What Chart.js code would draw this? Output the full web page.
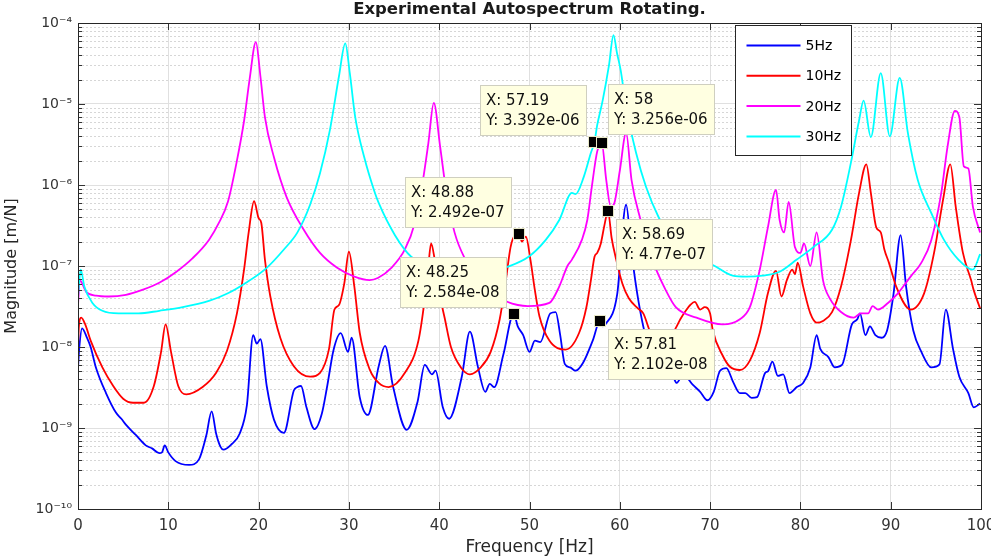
<!DOCTYPE html>
<html>
<head>
<meta charset="utf-8">
<script src="https://cdn.jsdelivr.net/npm/chart.js@4.4.1/dist/chart.umd.min.js"></script>
<style>
html, body { margin: 0; padding: 0; background: #fff; }
#wrap { width: 991px; height: 558px; position: relative; }
</style>
</head>
<body>
<div id="wrap"><canvas id="autospectrum"></canvas></div>
<script>
const FONT = "'DejaVu Sans', Arial, sans-serif";

const chartTitle = 'Experimental Autospectrum Rotating.';
const seriesNames = ['5Hz', '10Hz', '20Hz', '30Hz'];
const seriesColors = ['#0000ff', '#ff0000', '#ff00ff', '#00ffff'];

// [frequency Hz, magnitude m/N]
const curve5Hz = [
  [0,5.5e-9],[0.15,1.0e-8],[0.45,1.7e-8],[1.0,1.3e-8],[1.4,1.0e-8],[2.0,5.5e-9],[3.1,2.7e-9],[4.2,1.55e-9],
  [4.8,1.3e-9],[5.3,1.1e-9],[6.4,8.2e-10],[7.5,6.1e-10],[8.2,5.6e-10],[9.0,4.9e-10],[9.3,5.0e-10],[9.6,6.1e-10],
  [10.0,5.0e-10],[10.8,3.9e-10],[12.3,3.5e-10],[13.4,4.1e-10],[14.2,8e-10],[14.8,1.6e-9],[15.3,8.5e-10],
  [15.8,5.8e-10],[16.1,5.4e-10],[17.0,6.3e-10],[17.9,8.5e-10],[18.7,1.9e-9],[19.4,1.4e-8],[19.8,1.1e-8],
  [20.2,1.25e-8],[20.9,3.3e-9],[21.7,1.27e-9],[22.8,8.7e-10],[23.9,2.9e-9],[24.3,3.2e-9],[24.7,3.3e-9],
  [25.3,1.8e-9],[26.2,9.7e-10],[27.0,1.5e-9],[27.6,3.3e-9],[28.3,9.2e-9],[29.1,1.48e-8],[29.9,8.7e-9],
  [30.3,1.3e-8],[31.2,2.4e-9],[32.1,1.45e-9],[33.3,5.8e-9],[34.0,1.03e-8],[34.9,3.2e-9],[36.4,9.5e-10],
  [37.6,2.1e-9],[38.4,6e-9],[39.2,4.6e-9],[39.6,5.1e-9],[40.4,1.8e-9],[41.1,1.3e-9],[42.5,4.3e-9],
  [43.4,1.55e-8],[44.3,5.6e-9],[45.1,2.8e-9],[45.6,3.5e-9],[46.1,3.2e-9],[47.1,8e-9],[48.25,2.584e-8],
  [48.7,1.8e-8],[49.3,1.4e-8],[50.0,8.7e-9],[50.6,1.2e-8],[51.2,1.15e-8],[52.3,2.6e-8],[52.9,2.7e-8],
  [53.4,1.4e-8],[53.9,6.2e-9],[54.5,5.6e-9],[55.1,5.1e-9],[55.9,6.3e-9],[57.0,1.2e-8],[57.81,2.102e-8],
  [58.1,1.8e-8],[58.4,1.9e-8],[59.7,4.4e-8],[60.7,5.7e-7],[61.3,1.45e-7],[62.1,3.5e-8],[63.0,1.2e-8],
  [64.7,5.8e-9],[65.9,4.3e-9],[66.3,3.6e-9],[67.0,4.6e-9],[68.1,3.4e-9],[68.9,2.8e-9],[69.7,2.2e-9],
  [70.4,2.8e-9],[71.1,5.1e-9],[71.8,5.5e-9],[72.6,3.6e-9],[73.3,2.7e-9],[73.9,2.7e-9],[74.6,2.35e-9],
  [75.2,2.4e-9],[76.1,4.8e-9],[76.4,5.0e-9],[76.9,6.6e-9],[77.5,4.4e-9],[78.1,4.6e-9],[78.8,2.7e-9],
  [79.6,3.2e-9],[80.3,3.6e-9],[81.1,5.6e-9],[81.8,1.4e-8],[82.2,9.5e-9],[83.1,7.5e-9],[83.8,5.6e-9],
  [84.6,6e-9],[85.7,1.9e-8],[86.3,2.2e-8],[86.6,2.6e-8],[87.2,1.4e-8],[87.7,1.8e-8],[88.3,1.4e-8],
  [89.0,1.3e-8],[89.6,1.6e-8],[90.3,4.4e-8],[91.1,2.4e-7],[91.7,5.6e-8],[92.5,1.6e-8],[93.4,8.7e-9],
  [94.5,5.6e-9],[95.4,6.1e-9],[96.1,2.9e-8],[96.9,9.5e-9],[97.6,4.3e-9],[98.6,2.7e-9],[99.2,1.8e-9],[99.9,2.0e-9]
];

const curve10Hz = [
  [0,1.0e-8],[0.1,1.8e-8],[0.35,2.3e-8],[0.8,1.9e-8],[1.4,1.2e-8],[2.7,5.6e-9],[3.9,3.3e-9],[5.0,2.3e-9],
  [6.1,2.05e-9],[7.3,2.05e-9],[8.4,3.3e-9],[9.2,8.7e-9],[9.7,1.9e-8],[10.3,8.7e-9],[11.1,3.3e-9],[12.0,2.6e-9],
  [13.8,3.2e-9],[15.3,4.8e-9],[16.5,9e-9],[17.6,2.6e-8],[18.4,9.2e-8],[18.9,2.6e-7],[19.5,6.3e-7],[20.0,3.9e-7],
  [20.3,3.4e-7],[20.7,1.2e-7],[21.3,4.2e-8],[22.4,1.3e-8],[23.9,5.8e-9],[25.7,4.3e-9],[26.8,4.8e-9],
  [27.8,9.5e-9],[28.4,2.9e-8],[28.9,3.3e-8],[29.5,6.2e-8],[30.0,1.5e-7],[30.6,5.6e-8],[31.2,1.5e-8],
  [32.3,5.3e-9],[33.3,3.6e-9],[34.4,3.2e-9],[36.2,4.8e-9],[37.7,1.2e-8],[38.4,3.9e-8],[38.8,1.0e-7],
  [39.1,1.9e-7],[39.5,1.2e-7],[40.1,4.2e-8],[40.6,2.3e-8],[41.3,1.0e-8],[42.4,5.6e-9],[43.4,4.6e-9],
  [44.6,5.6e-9],[45.7,8.7e-9],[46.7,2.2e-8],[47.4,6.9e-8],[47.9,1.7e-7],[48.4,2.4e-7],[48.88,2.492e-7],
  [49.15,2.0e-7],[49.6,2.3e-7],[50.1,1.2e-7],[50.6,5e-8],[51.1,2.4e-8],[52.2,1.2e-8],[54.0,9.3e-9],
  [55.5,1.5e-8],[56.3,3.1e-8],[56.8,6.7e-8],[57.2,1.3e-7],[57.5,1.45e-7],[57.9,1.9e-7],[58.3,3.2e-7],
  [58.69,4.77e-7],[59.1,2.2e-7],[59.6,1.2e-7],[60.3,6e-8],[61.0,4e-8],[62.0,3e-8],[62.6,2.6e-8],
  [63.4,1.5e-8],[64.5,1.0e-8],[65.6,1.3e-8],[66.3,1.8e-8],[66.7,2.2e-8],[67.4,2.9e-8],[67.8,3.3e-8],
  [68.3,3.6e-8],[68.9,2.9e-8],[69.4,3.1e-8],[70.0,2.6e-8],[70.3,1.6e-8],[71.4,7.8e-9],[72.2,5.7e-9],
  [73.3,5.2e-9],[74.4,6.8e-9],[75.5,1.5e-8],[76.4,4.6e-8],[77.3,8.7e-8],[77.9,4.2e-8],[78.5,6.7e-8],
  [79.1,9e-8],[79.4,7.9e-8],[79.7,1.1e-7],[80.3,5.6e-8],[81.1,2.6e-8],[81.8,2.0e-8],[82.5,2.1e-8],
  [83.5,2.7e-8],[84.5,5.6e-8],[85.6,2.1e-7],[86.5,8e-7],[87.3,1.8e-6],[87.8,8e-7],[88.4,3.0e-7],
  [88.9,2.6e-7],[89.3,1.6e-7],[89.8,1.1e-7],[90.6,5.6e-8],[92.2,2.9e-8],[93.7,4.6e-8],[94.8,1.45e-7],
  [95.8,6.6e-7],[96.6,1.8e-6],[97.2,5.4e-7],[98.0,1.45e-7],[98.9,6.7e-8],[99.2,5e-8],[99.9,3.0e-8]
];

const curve20Hz = [
  [0,3.3e-8],[0.2,6.7e-8],[0.9,4.8e-8],[2.0,4.3e-8],[3.4,4.2e-8],[5.3,4.4e-8],[7.2,5.1e-8],[9.0,6.2e-8],
  [10.9,8.5e-8],[12.7,1.25e-7],[14.5,2.1e-7],[15.6,3.4e-7],[16.6,6.2e-7],[17.6,2.0e-6],[18.4,6.3e-6],
  [19.0,2.0e-5],[19.7,5.8e-5],[20.2,2.2e-5],[20.7,6.9e-6],[21.7,2.2e-6],[23.1,7.1e-7],[25.0,2.8e-7],
  [26.8,1.45e-7],[28.7,9.5e-8],[30.6,7.4e-8],[32.3,6.7e-8],[33.2,7.1e-8],[34.7,9.5e-8],[36.2,1.6e-7],
  [37.3,3.4e-7],[38.2,1.15e-6],[38.8,3.3e-6],[39.4,1.03e-5],[40.1,3.0e-6],[40.8,8e-7],[41.7,2.6e-7],
  [42.9,1.2e-7],[45.0,5.5e-8],[47.6,3.6e-8],[48.7,3.3e-8],[49.8,3.2e-8],[52.2,3.5e-8],[53.3,5.6e-8],
  [54.2,1.0e-7],[54.7,1.2e-7],[55.8,2.1e-7],[56.4,3.7e-7],[56.9,9.5e-7],[57.5,2.6e-6],[58.0,3.256e-6],
  [58.5,1.15e-6],[59.0,5.4e-7],[59.4,6e-7],[60.0,1.5e-6],[60.7,4.4e-6],[61.3,1.15e-6],[62.3,3.7e-7],
  [63.6,1.2e-7],[65.1,5e-8],[66.2,3.1e-8],[68.5,2.3e-8],[71.4,1.9e-8],[73.3,2.2e-8],[74.4,3.1e-8],
  [75.5,9e-8],[76.4,3.0e-7],[77.3,8.7e-7],[77.7,3.7e-7],[78.2,2.6e-7],[78.7,6.2e-7],[79.4,1.7e-7],
  [80.0,1.45e-7],[80.4,1.9e-7],[81.1,1.0e-7],[81.8,2.6e-7],[82.5,6.7e-8],[83.3,3.9e-8],[84.5,2.7e-8],
  [85.9,2.3e-8],[86.7,2.6e-8],[87.5,2.6e-8],[88.0,3.2e-8],[88.6,2.9e-8],[89.7,3.5e-8],[90.8,4.6e-8],
  [92.2,7.4e-8],[93.4,1.1e-7],[94.5,2.1e-7],[95.6,8e-7],[96.3,3.0e-6],[97.1,8.2e-6],[97.6,6.9e-6],
  [98.1,1.7e-6],[98.6,1.6e-6],[99.1,5.4e-7],[99.9,2.6e-7]
];

const curve30Hz = [
  [0,4.2e-8],[0.3,9e-8],[0.7,5.6e-8],[1.6,3.5e-8],[2.7,2.8e-8],[4.5,2.6e-8],[6.7,2.6e-8],[9.0,2.8e-8],
  [11.6,3.1e-8],[14.5,3.7e-8],[16.6,4.6e-8],[18.7,6.3e-8],[20.9,9.5e-8],[22.8,1.6e-7],[24.3,2.6e-7],
  [25.7,5.7e-7],[26.8,1.4e-6],[27.9,4.8e-6],[28.9,2.2e-5],[29.6,5.6e-5],[30.1,2.4e-5],[30.7,6.9e-6],
  [31.7,2.2e-6],[32.8,8.5e-7],[33.3,6e-7],[35.1,2.4e-7],[36.9,1.3e-7],[40.0,8.5e-8],[43.0,7.5e-8],
  [46.0,8.5e-8],[47.3,9.5e-8],[49.9,1.3e-7],[51.8,2.1e-7],[53.3,3.7e-7],[54.7,8e-7],[55.1,7.7e-7],
  [56.0,1.25e-6],[56.8,2.5e-6],[57.19,3.392e-6],[57.5,5.5e-6],[58.1,1.1e-5],[58.8,3.0e-5],[59.3,7.1e-5],
  [59.7,4.2e-5],[60.1,2.6e-5],[60.7,9.2e-6],[61.8,2.5e-6],[62.9,9.5e-7],[64.3,4.0e-7],[65.8,2.1e-7],
  [68.0,1.3e-7],[70.3,1.03e-7],[72.5,7.6e-8],[74.0,7.4e-8],[75.8,7.6e-8],[77.7,8.5e-8],[79.6,1.2e-7],
  [81.4,1.7e-7],[83.5,2.8e-7],[84.5,5.4e-7],[85.6,1.9e-6],[86.5,6.3e-6],[87.0,1.1e-5],[87.8,3.9e-6],
  [88.9,2.4e-5],[89.9,4.0e-6],[91.0,2.1e-5],[91.9,4.4e-6],[93.0,1.15e-6],[94.5,4.5e-7],[95.9,2.1e-7],
  [97.5,1.2e-7],[99.1,9e-8],[99.9,1.4e-7]
];
const curves = [curve5Hz, curve10Hz, curve20Hz, curve30Hz];

// data tips: series index, X, Y, where the box sits
const tipSeries = [3, 2, 1, 1, 0, 0];
const tipX = [57.19, 58, 48.88, 58.69, 48.25, 57.81];
const tipY = [3.392e-6, 3.256e-6, 2.492e-7, 4.77e-7, 2.584e-8, 2.102e-8];
const tipCorner = ['ul', 'ur', 'ul', 'dr', 'ul', 'dr'];

const xTicks = [0, 10, 20, 30, 40, 50, 60, 70, 80, 90, 100];
const yDecades = [-10, -9, -8, -7, -6, -5, -4];

const SUP = {'-': '\u207B', '0': '\u2070', '1': '\u00B9', '2': '\u00B2', '3': '\u00B3', '4': '\u2074',
             '5': '\u2075', '6': '\u2076', '7': '\u2077', '8': '\u2078', '9': '\u2079'};
function pow10Label(v) {
  const e = Math.round(Math.log10(v));
  return '10' + String(e).split('').map(c => SUP[c]).join('');
}
function fmtX(v) { return String(v); }
function fmtY(v) {
  const parts = v.toExponential(3).split('e');
  const mant = parts[0].replace(/\.?0+$/, '');
  const n = parseInt(parts[1], 10);
  return mant + 'e' + (n < 0 ? '-' : '+') + String(Math.abs(n)).padStart(2, '0');
}

const minorValues = [];
yDecades.slice(0, -1).forEach(e => {
  for (let m = 2; m <= 9; m++) minorValues.push(m * Math.pow(10, e));
});

const matlabLook = {
  id: 'matlabLook',
  beforeDraw(chart) {
    const ctx = chart.ctx;
    ctx.save();
    ctx.fillStyle = '#ffffff';
    ctx.fillRect(0, 0, chart.width, chart.height);
    ctx.restore();
  },
  beforeDatasetsDraw(chart) {
    const { ctx, chartArea: a, scales: { y } } = chart;
    ctx.save();
    ctx.strokeStyle = '#d6d6d6';
    ctx.lineWidth = 1;
    ctx.setLineDash([2, 2]);
    minorValues.forEach(v => {
      const py = Math.round(y.getPixelForValue(v)) + 0.5;
      ctx.beginPath();
      ctx.moveTo(a.left, py);
      ctx.lineTo(a.right, py);
      ctx.stroke();
    });
    ctx.restore();
  },
  afterDatasetsDraw(chart) {
    const { ctx, chartArea: a, scales: { x, y } } = chart;
    ctx.save();
    ctx.strokeStyle = '#333333';
    ctx.lineWidth = 1;
    ctx.beginPath();
    xTicks.forEach(v => {
      const px = Math.round(x.getPixelForValue(v)) + 0.5;
      ctx.moveTo(px, a.bottom); ctx.lineTo(px, a.bottom - 7);
      ctx.moveTo(px, a.top); ctx.lineTo(px, a.top + 7);
    });
    yDecades.forEach(e => {
      const py = Math.round(y.getPixelForValue(Math.pow(10, e))) + 0.5;
      ctx.moveTo(a.left, py); ctx.lineTo(a.left + 7, py);
      ctx.moveTo(a.right, py); ctx.lineTo(a.right - 7, py);
    });
    minorValues.forEach(v => {
      const py = Math.round(y.getPixelForValue(v)) + 0.5;
      ctx.moveTo(a.left, py); ctx.lineTo(a.left + 4, py);
      ctx.moveTo(a.right, py); ctx.lineTo(a.right - 4, py);
    });
    ctx.stroke();
    ctx.strokeStyle = '#262626';
    ctx.strokeRect(Math.round(a.left) + 0.5, Math.round(a.top) + 0.5,
                   Math.round(a.right - a.left), Math.round(a.bottom - a.top));
    ctx.restore();
  },
  afterDraw(chart) {
    const { ctx, chartArea: a, scales: { x, y } } = chart;
    ctx.save();
    // title
    ctx.fillStyle = '#1a1a1a';
    ctx.font = 'bold 16.5px ' + FONT;
    ctx.textAlign = 'center';
    ctx.textBaseline = 'middle';
    ctx.fillText(chartTitle, (a.left + a.right) / 2, 10);

    // legend
    const lw = 116, lh = 130;
    const lx = Math.round(a.right - 246) + 0.5, ly = Math.round(a.top + 2) + 0.5;
    ctx.fillStyle = '#ffffff';
    ctx.fillRect(lx, ly, lw, lh);
    ctx.strokeStyle = '#262626';
    ctx.lineWidth = 1;
    ctx.strokeRect(lx, ly, lw, lh);
    ctx.font = '14px ' + FONT;
    ctx.textAlign = 'left';
    seriesNames.forEach((name, i) => {
      const ry = ly + 20 + i * 30.3;
      ctx.strokeStyle = seriesColors[i];
      ctx.lineWidth = 2;
      ctx.beginPath();
      ctx.moveTo(lx + 11, ry); ctx.lineTo(lx + 65, ry);
      ctx.stroke();
      ctx.fillStyle = '#000000';
      ctx.fillText(name, lx + 70, ry + 1);
    });

    // data tips
    ctx.font = '15px ' + FONT;
    const marks = [];
    tipX.forEach((tx, i) => {
      const ty = tipY[i];
      const mx = Math.round(x.getPixelForValue(tx));
      const my = Math.round(y.getPixelForValue(ty));
      const l1 = 'X: ' + fmtX(tx), l2 = 'Y: ' + fmtY(ty);
      const w = Math.round(Math.max(ctx.measureText(l1).width, ctx.measureText(l2).width) + 12);
      const h = 50;
      let bx, by;
      if (tipCorner[i] === 'ul') { bx = mx - 8 - w; by = my - 7 - h; }
      else if (tipCorner[i] === 'ur') { bx = mx + 6; by = my - 9 - h; }
      else { bx = mx + 8; by = my + 8; }
      ctx.fillStyle = '#ffffe1';
      ctx.fillRect(bx + 0.5, by + 0.5, w, h);
      ctx.strokeStyle = '#cfcfc0';
      ctx.lineWidth = 1;
      ctx.strokeRect(bx + 0.5, by + 0.5, w, h);
      ctx.fillStyle = '#111111';
      ctx.textBaseline = 'middle';
      ctx.fillText(l1, bx + 6, by + 16);
      ctx.fillText(l2, bx + 6, by + 36);
      marks.push([mx, my]);
    });
    marks.forEach(([mx, my]) => {
      ctx.fillStyle = '#000000';
      ctx.fillRect(mx - 5, my - 5, 10, 10);
      ctx.strokeStyle = '#e8e8c8';
      ctx.lineWidth = 1;
      ctx.strokeRect(mx - 5.5, my - 5.5, 11, 11);
    });
    ctx.restore();
  }
};

const spectrumChart = new Chart(document.getElementById('autospectrum'), {
  type: 'line',
  data: {
    datasets: seriesNames.map((name, i) => ({
      label: name,
      data: curves[i].map(p => ({ x: p[0], y: p[1] })),
      borderColor: seriesColors[i],
      backgroundColor: seriesColors[i],
      borderWidth: 1.8,
      pointRadius: 0,
      fill: false,
      cubicInterpolationMode: 'monotone',
      order: 3 - i
    }))
  },
  options: {
    animation: false,
    responsive: true,
    maintainAspectRatio: false,
    layout: { padding: { top: 23, right: 10, bottom: 0, left: 0 } },
    plugins: {
      legend: { display: false },
      title: { display: false },
      tooltip: { enabled: false }
    },
    scales: {
      x: {
        type: 'linear',
        min: 0,
        max: 100,
        afterBuildTicks: s => { s.ticks = xTicks.map(v => ({ value: v })); },
        afterFit: s => { s.height = 49; s.paddingLeft = 0; s.paddingRight = 0; },
        ticks: { font: { family: FONT, size: 15 }, color: '#333333', padding: 8, maxRotation: 0, autoSkip: false },
        grid: { color: '#e0e0e0', lineWidth: 1, drawTicks: false },
        border: { display: false },
        title: { display: true, text: 'Frequency [Hz]', font: { family: FONT, size: 17 }, color: '#262626', padding: { top: 0, bottom: 0 } }
      },
      y: {
        type: 'logarithmic',
        min: 1e-10,
        max: 1e-4,
        afterBuildTicks: s => { s.ticks = yDecades.map(e => ({ value: Math.pow(10, e) })); },
        afterFit: s => { s.width = 78; s.paddingTop = 0; s.paddingBottom = 0; },
        ticks: { callback: v => pow10Label(v), font: { family: FONT, size: 14 }, color: '#333333', padding: 6, autoSkip: false },
        grid: { color: '#e0e0e0', lineWidth: 1, drawTicks: false },
        border: { display: false },
        title: { display: true, text: 'Magnitude [m/N]', font: { family: FONT, size: 16 }, color: '#262626', padding: { top: 2, bottom: 0 } }
      }
    }
  },
  plugins: [matlabLook]
});
</script>
</body>
</html>
